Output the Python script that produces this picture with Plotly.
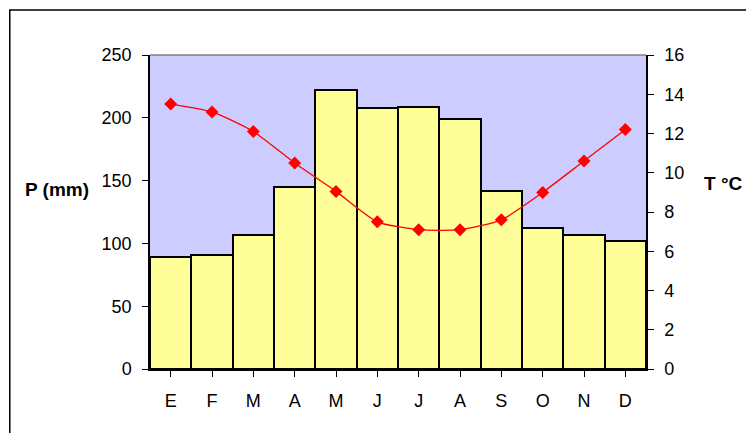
import plotly.graph_objects as go

months = ["E", "F", "M", "A", "M", "J", "J", "A", "S", "O", "N", "D"]
precip_mm = [89, 91, 107, 145, 222, 208, 209, 199, 142, 112, 107, 102]
temp_c = [13.5, 13.1, 12.1, 10.5, 9.05, 7.5, 7.1, 7.1, 7.6, 9.0, 10.6, 12.2]
p_ticks = [0, 50, 100, 150, 200, 250]
t_ticks = [0, 2, 4, 6, 8, 10, 12, 14, 16]

x_idx = list(range(len(months)))

FONT = "Arial, Liberation Sans, sans-serif"

# plot area in figure pixels (page is offset by 8px body margin)
L, R, T, B = 141.5, 638.5, 47.0, 360.7
W, H = 746, 425
PW, PH = R - L, B - T

def px(x):
    return (x - L) / PW

def py(y):
    return (B - y) / PH

fig = go.Figure()
fig.add_trace(go.Bar(
    x=x_idx, y=precip_mm,
    marker=dict(color="#FFFF99", line=dict(color="black", width=2)),
    width=1.0,
    yaxis="y", showlegend=False, hoverinfo="skip",
))
fig.add_trace(go.Scatter(
    x=x_idx, y=temp_c, yaxis="y2",
    mode="lines+markers",
    line=dict(color="#FF0000", width=1.3, shape="spline", smoothing=0.6),
    marker=dict(symbol="diamond", size=10, color="#FF0000"),
    showlegend=False, hoverinfo="skip",
))

fig.update_layout(
    width=W, height=H,
    margin=dict(l=L, r=W - R, t=T, b=H - B, pad=0),
    paper_bgcolor="white",
    plot_bgcolor="#CCCCFF",
    bargap=0,
    font=dict(family=FONT, size=18, color="black"),
    xaxis=dict(
        range=[-0.5, len(months) - 0.5],
        tickmode="array", tickvals=x_idx, ticktext=months,
        tickson="boundaries",
        ticks="outside", ticklen=6, tickwidth=1, tickcolor="black",
        showline=True, linecolor="black", linewidth=2,
        showgrid=False, zeroline=False,
        ticklabelstandoff=8,
        tickfont=dict(size=18),
    ),
    yaxis=dict(
        range=[0, 250], tickvals=p_ticks,
        ticks="outside", ticklen=6, tickwidth=1, tickcolor="black",
        showline=True, linecolor="black", linewidth=1.5,
        showgrid=False, zeroline=False,
        ticklabelstandoff=7,
        tickfont=dict(size=18),
    ),
    yaxis2=dict(
        range=[0, 16], tickvals=t_ticks,
        overlaying="y", side="right",
        ticks="outside", ticklen=6, tickwidth=1, tickcolor="black",
        showline=True, linecolor="black", linewidth=1.5,
        showgrid=False, zeroline=False,
        ticklabelstandoff=7,
        tickfont=dict(size=18),
    ),
    shapes=[
        dict(type="line", xref="paper", yref="paper", x0=0, x1=1, y0=1, y1=1,
             line=dict(color="#808080", width=1.5)),
        dict(type="rect", xref="paper", yref="paper",
             x0=px(1), x1=px(W + 20), y0=py(H + 20), y1=py(2),
             line=dict(color="black", width=1.5), fillcolor="rgba(0,0,0,0)", layer="above"),
    ],
    annotations=[
        dict(text="<b>P (mm)</b>", xref="paper", yref="paper",
             x=px(48), y=py(181),
             xanchor="center", yanchor="middle", showarrow=False,
             font=dict(size=19, family=FONT)),
        dict(text="<b>T °C</b>", xref="paper", yref="paper",
             x=px(715.5), y=py(175),
             xanchor="center", yanchor="middle", showarrow=False,
             font=dict(size=19, family=FONT)),
    ],
)

fig.write_html("out.html")
